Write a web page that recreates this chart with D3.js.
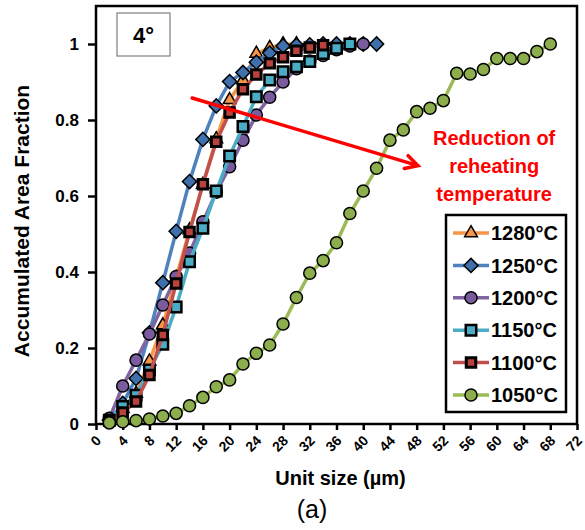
<!DOCTYPE html>
<html>
<head>
<meta charset="utf-8">
<script src="https://cdn.jsdelivr.net/npm/d3@7"></script>
<style>
  body { margin: 0; background: #fff; }
  text { font-family: "Liberation Sans", Arial, sans-serif; }
</style>
</head>
<body>
<div id="chart"></div>
<script>
// unit size (um) sampled for each curve
const x1280 = [2, 4, 6, 8, 10, 12, 14, 16, 18, 20, 22, 24, 26, 28, 30]
const y1280 = [0.01, 0.04, 0.08, 0.165, 0.26, 0.385, 0.51, 0.63, 0.75, 0.853, 0.905, 0.975, 0.99, 1.0, 1.0]

const x1250 = [2, 4, 6, 8, 10, 12, 14, 16, 18, 20, 22, 24, 26, 28, 30, 32, 34, 36, 38, 40, 42]
const y1250 = [0.01, 0.054, 0.12, 0.24, 0.372, 0.507, 0.638, 0.749, 0.837, 0.901, 0.925, 0.952, 0.976, 0.995, 0.997, 0.998, 1.0, 1.0, 1.0, 1.0, 1.0]

const x1200 = [2, 4, 6, 8, 10, 12, 14, 16, 18, 20, 22, 24, 26, 28, 30, 32, 34, 36, 38, 40]
const y1200 = [0.015, 0.1, 0.168, 0.237, 0.313, 0.388, 0.45, 0.532, 0.61, 0.677, 0.747, 0.813, 0.86, 0.9, 0.935, 0.955, 0.97, 0.985, 0.995, 1.0]

const x1150 = [2, 4, 6, 8, 10, 12, 14, 16, 18, 20, 22, 24, 26, 28, 30, 32, 34, 36, 38]
const y1150 = [0.01, 0.046, 0.076, 0.142, 0.21, 0.308, 0.427, 0.515, 0.613, 0.705, 0.783, 0.861, 0.905, 0.927, 0.94, 0.954, 0.975, 0.989, 1.0]

const x1100 = [2, 4, 6, 8, 10, 12, 14, 16, 18, 20, 22, 24, 26, 28, 30, 32, 34]
const y1100 = [0.01, 0.03, 0.059, 0.129, 0.234, 0.37, 0.505, 0.631, 0.743, 0.82, 0.881, 0.92, 0.949, 0.965, 0.982, 0.991, 0.997]

const x1050 = [2, 4, 6, 8, 10, 12, 14, 16, 18, 20, 22, 24, 26, 28, 30, 32, 34,
  36, 38, 40, 42, 44, 46, 48, 50, 52, 54, 56, 58, 60, 62, 64, 66, 68]
const y1050 = [0.003, 0.006, 0.009, 0.013, 0.021, 0.028, 0.048, 0.07, 0.098, 0.116, 0.158, 0.186, 0.208, 0.263, 0.333, 0.397, 0.43,
  0.477, 0.554, 0.613, 0.673, 0.747, 0.774, 0.822, 0.831, 0.851, 0.923, 0.921, 0.933, 0.962, 0.962, 0.962, 0.98, 1.0]

const seriesNames = ['1280°C', '1250°C', '1200°C', '1150°C', '1100°C', '1050°C']
const xTicks = [0, 4, 8, 12, 16, 20, 24, 28, 32, 36, 40, 44, 48, 52, 56, 60, 64, 68, 72]
const yTicks = [0, 0.2, 0.4, 0.6, 0.8, 1]
const noteLines = ['Reduction of', 'reheating', 'temperature']

// styling per series (legend order)
const styles = [
  { line: '#F79646', fill: '#F79646', shape: 'triangle', sw: 1.5 },
  { line: '#4F81BD', fill: '#3F70AC', shape: 'diamond', sw: 1.5 },
  { line: '#8064A2', fill: '#7A5C9E', shape: 'circle', sw: 1.5 },
  { line: '#4BACC6', fill: '#4BACC6', shape: 'square', sw: 2.5 },
  { line: '#C0504D', fill: '#B9423F', shape: 'smallsquare', sw: 3 },
  { line: '#9BBB59', fill: '#8DAE4C', shape: 'circle', sw: 1.5 }
]

const series = [
  [x1280, y1280], [x1250, y1250], [x1200, y1200],
  [x1150, y1150], [x1100, y1100], [x1050, y1050]
].map(function (s, i) {
  return {
    name: seriesNames[i],
    style: styles[i],
    values: s[0].map(function (x, j) { return { x: x, y: s[1][j] } })
  }
})

const W = 585
const H = 530
const margin = { top: 6, right: 8, bottom: 106, left: 96 }

const svg = d3.select('#chart').append('svg')
  .attr('width', W)
  .attr('height', H)

svg.append('rect').attr('width', W).attr('height', H).attr('fill', '#fff')

const x = d3.scaleLinear().domain([0, 72]).range([margin.left, W - margin.right])
const y = d3.scaleLinear().domain([0, 1.1]).range([H - margin.bottom, margin.top])

// axes
const gx = svg.append('g')
  .attr('transform', 'translate(0,' + y(0) + ')')
  .call(d3.axisBottom(x).tickValues(xTicks).tickSize(6).tickSizeOuter(0))
gx.select('.domain').remove()
gx.selectAll('line').attr('stroke-width', 2.5)
gx.selectAll('text')
  .attr('x', 0).attr('y', 0).attr('dy', '0.35em')
  .attr('transform', 'translate(2,14) rotate(-45)')
  .style('text-anchor', 'end')
  .style('font-size', '14px')
  .style('font-weight', 'bold')
  .attr('fill', '#000')

const gy = svg.append('g')
  .attr('transform', 'translate(' + x(0) + ',0)')
  .call(d3.axisLeft(y).tickValues(yTicks).tickSize(8).tickPadding(9).tickSizeOuter(0)
    .tickFormat(function (d) { return d === 0 || d === 1 ? d : d3.format('.1f')(d) }))
gy.select('.domain').remove()
gy.selectAll('line').attr('stroke-width', 2.5)
gy.selectAll('text')
  .style('font-size', '17px')
  .style('font-weight', 'bold')
  .attr('fill', '#000')

// plot frame
svg.append('rect')
  .attr('x', x(0)).attr('y', y(1.1))
  .attr('width', x(72) - x(0)).attr('height', y(0) - y(1.1))
  .attr('fill', 'none').attr('stroke', '#000').attr('stroke-width', 2.5)

function symbolPath (shape) {
  if (shape === 'triangle') return d3.symbol(d3.symbolTriangle, 70)()
  if (shape === 'diamond') return d3.symbol(d3.symbolSquare, 100)()
  if (shape === 'circle') return d3.symbol(d3.symbolCircle, 115)()
  if (shape === 'square') return d3.symbol(d3.symbolSquare, 110)()
  return d3.symbol(d3.symbolSquare, 90)()
}

const line = d3.line().x(function (d) { return x(d.x) }).y(function (d) { return y(d.y) })

series.forEach(function (s) {
  const g = svg.append('g')
  g.append('path')
    .attr('d', line(s.values))
    .attr('fill', 'none')
    .attr('stroke', s.style.line)
    .attr('stroke-width', 3.5)
  g.selectAll('path.pt')
    .data(s.values)
    .enter().append('path')
    .attr('class', 'pt')
    .attr('d', symbolPath(s.style.shape))
    .attr('transform', function (d) {
      return 'translate(' + x(d.x) + ',' + y(d.y) + ')' + (s.style.shape === 'diamond' ? ' rotate(45)' : '')
    })
    .attr('fill', s.style.fill)
    .attr('stroke', '#000')
    .attr('stroke-width', s.style.sw)
})

// red arrow
const a0 = [x(14.4), y(0.858)]
const a1 = [x(48.2), y(0.68)]
const ang = Math.atan2(a1[1] - a0[1], a1[0] - a0[0])
const head = 14
svg.append('path')
  .attr('d', 'M' + a0 + 'L' + a1 +
    'M' + [a1[0] - head * Math.cos(ang - 0.5), a1[1] - head * Math.sin(ang - 0.5)] +
    'L' + a1 +
    'L' + [a1[0] - head * Math.cos(ang + 0.5), a1[1] - head * Math.sin(ang + 0.5)])
  .attr('fill', 'none')
  .attr('stroke', '#FF0000')
  .attr('stroke-width', 3.5)
  .attr('stroke-linecap', 'round')

svg.append('text')
  .attr('x', x(59.6))
  .attr('text-anchor', 'middle')
  .style('font-size', '20px')
  .style('font-weight', 'bold')
  .attr('fill', '#FF0000')
  .selectAll('tspan')
  .data(noteLines)
  .enter().append('tspan')
  .attr('x', x(59.6))
  .attr('y', function (d, i) { return 145 + i * 28 })
  .text(function (d) { return d })

// angle label box
svg.append('rect')
  .attr('x', 117).attr('y', 13).attr('width', 53).attr('height', 43)
  .attr('fill', '#fff').attr('stroke', '#7f7f7f').attr('stroke-width', 1.2)
svg.append('text')
  .attr('x', 143.5).attr('y', 43)
  .attr('text-anchor', 'middle')
  .style('font-size', '22px')
  .style('font-weight', 'bold')
  .text('4°')

// legend
const legend = svg.append('g')
legend.append('rect')
  .attr('x', 446).attr('y', 215).attr('width', 120).attr('height', 197)
  .attr('fill', '#fff').attr('stroke', '#000').attr('stroke-width', 2.5)

const li = legend.selectAll('g.item')
  .data(series)
  .enter().append('g')
  .attr('class', 'item')
  .attr('transform', function (d, i) { return 'translate(0,' + (233 + i * 32.4) + ')' })
li.append('line')
  .attr('x1', 453).attr('x2', 489)
  .attr('stroke', function (d) { return d.style.line })
  .attr('stroke-width', 3.5)
li.append('path')
  .attr('d', function (d) { return symbolPath(d.style.shape) })
  .attr('transform', function (d) { return 'translate(471,0)' + (d.style.shape === 'diamond' ? ' rotate(45)' : '') })
  .attr('fill', function (d) { return d.style.fill })
  .attr('stroke', '#000')
  .attr('stroke-width', function (d) { return d.style.sw })
li.append('text')
  .attr('x', 491)
  .attr('dy', '0.36em')
  .style('font-size', '20px')
  .style('font-weight', 'bold')
  .text(function (d) { return d.name })

// axis titles
svg.append('text')
  .attr('x', x(36) + 4).attr('y', 485)
  .attr('text-anchor', 'middle')
  .style('font-size', '20px')
  .style('font-weight', 'bold')
  .text('Unit size (µm)')

svg.append('text')
  .attr('transform', 'translate(29,221) rotate(-90)')
  .attr('text-anchor', 'middle')
  .style('font-size', '21px')
  .style('font-weight', 'bold')
  .text('Accumulated Area Fraction')

svg.append('text')
  .attr('x', 312).attr('y', 518)
  .attr('text-anchor', 'middle')
  .style('font-size', '25px')
  .text('(a)')
</script>
</body>
</html>
